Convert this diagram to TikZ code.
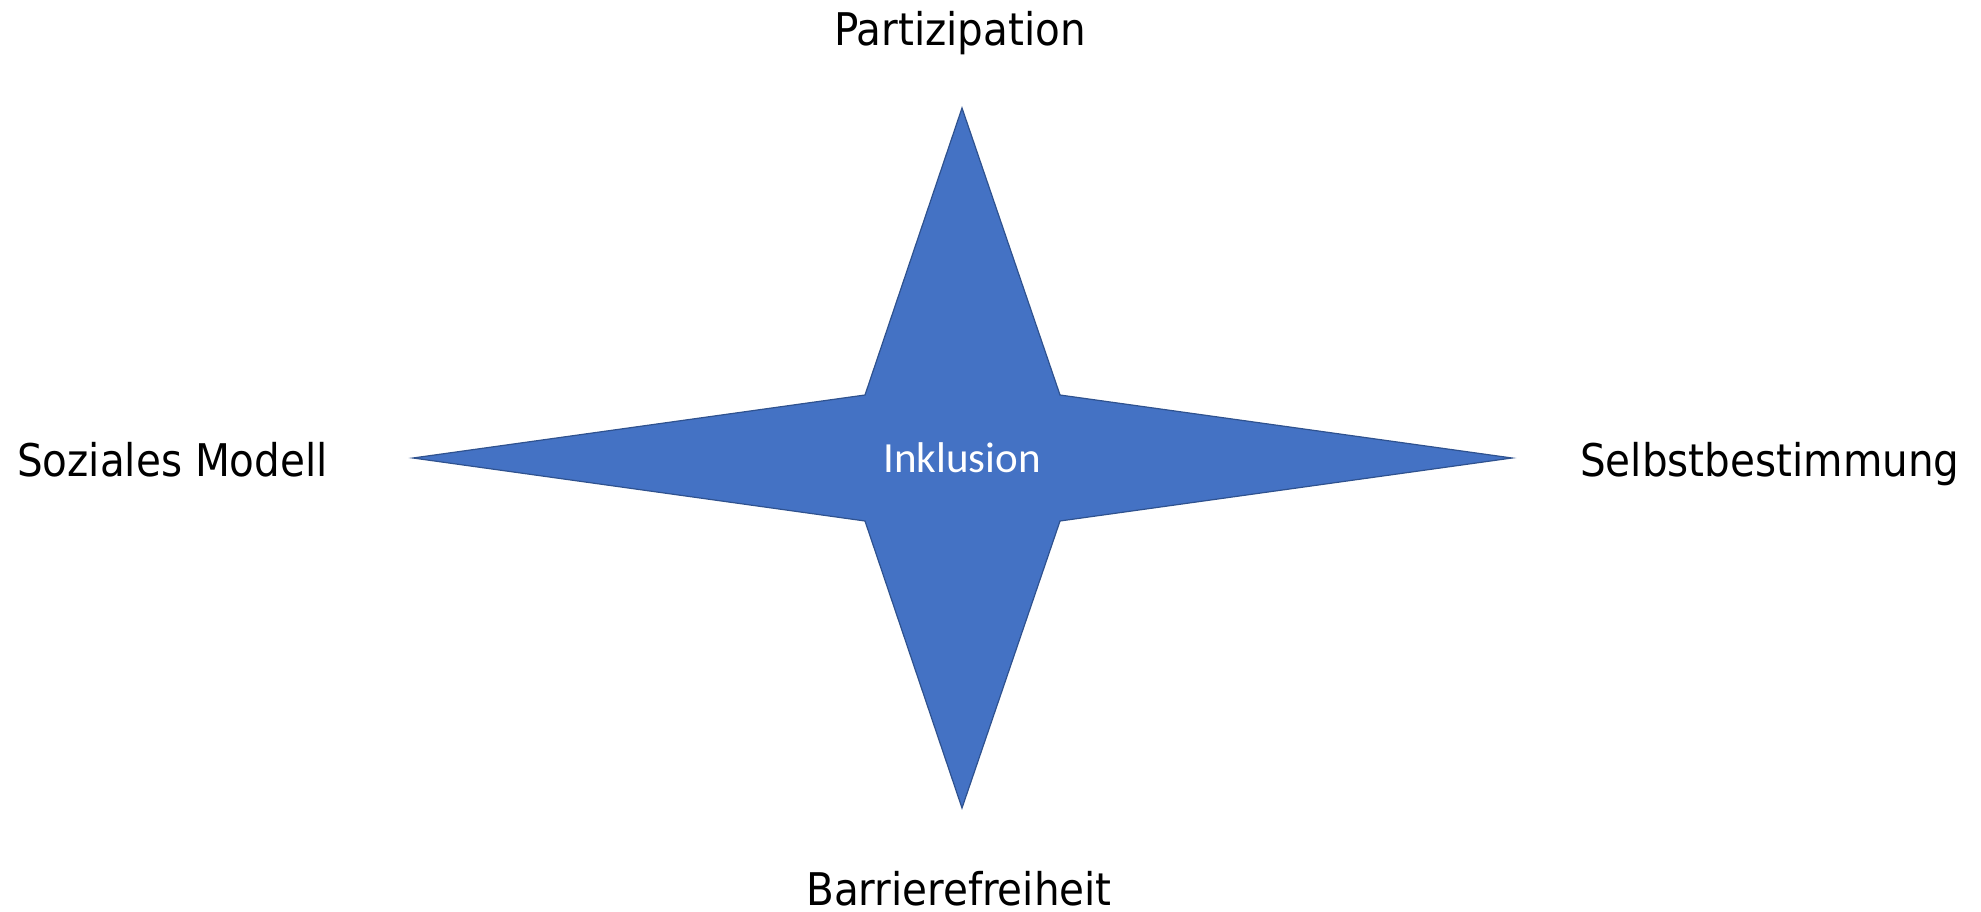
\documentclass[tikz,border=0pt]{standalone}
\usepackage{fontspec}
\setmainfont{DejaVu Sans Condensed}
\newfontfamily\innerfont{Carlito}
\definecolor{starblue}{HTML}{4472C4}
\definecolor{starline}{HTML}{2F528F}

\begin{document}
\begin{tikzpicture}[x=1pt,y=-1pt]
  \useasboundingbox (0,0) rectangle (1981,912);
  \tikzset{label/.style={inner sep=0pt,font=\fontsize{45}{54}\selectfont}}
  \fill[starblue,draw=starline,line width=1.2pt]
    (962,108) -- (1060,395) -- (1512,458) -- (1060,521) --
    (962,808) -- (865,521) -- (413,458) -- (865,395) -- cycle;
  \node (inklusion) at (962,472) [anchor=base,inner sep=0pt,white,
    font=\innerfont\fontsize{43}{50}\selectfont] {Inklusion};
  \node (partizipation) at (960,46) [label,anchor=base] {Partizipation};
  \node (barriere) at (959,905) [label,anchor=base] {Barrierefreiheit};
  \node (sozial) at (17,476) [label,anchor=base west] {Soziales Modell};
  \node (selbst) at (1580,476) [label,anchor=base west] {Selbstbestimmung};
\end{tikzpicture}
\end{document}
